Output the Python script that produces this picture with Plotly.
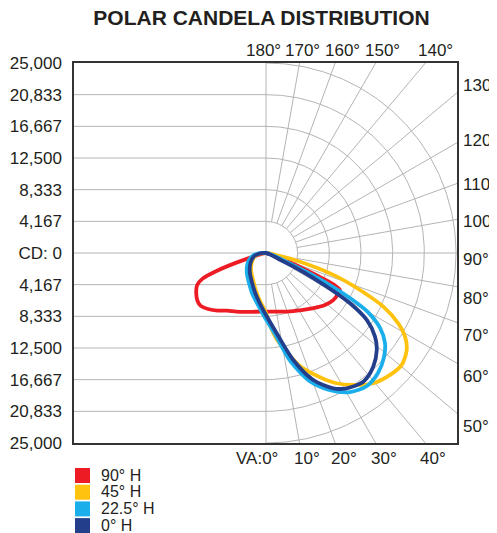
import numpy as np
import plotly.graph_objects as go

# ---------------- data ----------------
TITLE = "POLAR CANDELA DISTRIBUTION"
CD_MAX = 25000
CD_TICK_VALUES = [25000, 20833.33, 16666.67, 12500, 8333.33, 4166.67, 0,
                  -4166.67, -8333.33, -12500, -16666.67, -20833.33, -25000]
CD_TICK_LABELS = ["25,000", "20,833", "16,667", "12,500", "8,333", "4,167", "CD: 0",
                  "4,167", "8,333", "12,500", "16,667", "20,833", "25,000"]
GRID_ANGLES = list(range(10, 180, 10))
TOP_ANGLE_LABELS = ["180°", "170°", "160°", "150°", "140°"]
RIGHT_ANGLE_LABELS = ["130°", "120°", "110°", "100°", "90°", "80°", "70°", "60°", "50°"]
BOTTOM_ANGLE_LABELS = ["VA:0°", "10°", "20°", "30°", "40°"]

SERIES_NAMES = ["90° H", "45° H", "22.5° H", "0° H"]
SERIES_COLORS = ["#ED1C24", "#FFC20E", "#1AAEEB", "#233E8B"]

# vertical angle (deg, 0 = down, 90 = horizontal right, negative = opposite half-plane), candela
H90_THETA = [-76, -74, -72, -70, -68, -65, -60, -55, -51, -46, -40, -34, -27, -20, -10, 0,
             10, 20, 32, 40, 48.6, 55, 60, 63.4, 65, 66, 66]
H90_CD = [0, 1500, 4000, 7000, 9000, 10000, 10600, 11000, 11050, 10600, 9900, 9150, 8650,
          8250, 7850, 7720, 7820, 8200, 8850, 9500, 10350, 10800, 10900, 10890, 9900, 7800, 0]

H45_THETA = [-90, -80, -67, -53, -39, -26, -16, -8, 0, 3.5, 7, 11.1, 16.7, 23.5, 28, 33.5,
             39.5, 45.5, 50.5, 55.4, 59, 62, 65.4, 68.5, 72, 75.6, 78, 80]
H45_CD = [0, 1200, 1800, 2400, 3100, 3900, 5000, 6200, 7900, 9700, 11400, 13000, 15530,
          17840, 19370, 20820, 22210, 22890, 23150, 22490, 21350, 19710, 16970, 13290,
          9320, 4620, 1500, 0]

H22_THETA = [-90, -80.5, -67.6, -55.6, -42.1, -29.5, -19.3, -10.2, -1.8, 6.3, 12.9, 19.2,
             25, 31.1, 37.2, 43, 48.6, 52.9, 56.7, 59.9, 61.8, 63.8, 65.8, 67.5]
H22_CD = [0, 1600, 2420, 3030, 3730, 4540, 5570, 6690, 8290, 10720, 14710, 17980, 19900,
          21370, 21970, 21600, 20700, 19630, 17950, 15500, 12540, 8650, 4000, 0]

H0_THETA = [-90, -79, -67, -53, -39, -26, -16, -8, 0, 7.6, 14.3, 20.4, 26.4, 30.8, 37.1,
            43.3, 48.8, 52.5, 56.4, 59.1, 61, 63, 64.5, 66]
H0_CD = [0, 1340, 2000, 2630, 3370, 4240, 5330, 6510, 8160, 10660, 14530, 17830, 19880,
         20730, 21230, 20570, 19370, 18080, 15920, 12880, 9135, 5500, 2200, 0]

SERIES_THETA = [H90_THETA, H45_THETA, H22_THETA, H0_THETA]
SERIES_CD = [H90_CD, H45_CD, H22_CD, H0_CD]

# ---------------- layout geometry ----------------
# the page body has an 8px default margin, so the figure is 8px smaller than the window
PAGE_OFF = 8
W, H = 497 - PAGE_OFF, 533 - PAGE_OFF
PLOT_LEFT, PLOT_RIGHT, PLOT_TOP, PLOT_BOTTOM = 74, 457, 63, 443   # window pixels
ML = PLOT_LEFT - PAGE_OFF
MT = PLOT_TOP - PAGE_OFF
PW = PLOT_RIGHT - PLOT_LEFT
PH = PLOT_BOTTOM - PLOT_TOP
MR = W - ML - PW
MB = H - MT - PH
CX = 266                      # window pixel x of the polar centre
RADIUS_PX = PH / 2
px_per_cd = RADIUS_PX / CD_MAX
x_min = -(CX - PLOT_LEFT) / px_per_cd
x_max = (PLOT_RIGHT - CX) / px_per_cd


def paper_x(px):
    return (px - PLOT_LEFT) / PW


def paper_y(py):
    return (PLOT_BOTTOM - py) / PH


FONT = "Liberation Sans, Arial, sans-serif"
TEXT_COLOR = "#231F20"
GRID_COLOR = "#b4b4b4"

fig = go.Figure()

# ---------------- grid (cartesian) ----------------
gx, gy = [], []
for v in CD_TICK_VALUES:
    if abs(v) < CD_MAX - 1:
        gx += [x_min, 0, None]
        gy += [v, v, None]
gx += [0, 0, None]
gy += [-CD_MAX, CD_MAX, None]
rings = [v for v in CD_TICK_VALUES if v > 0]
t = np.linspace(0, np.pi, 241)
for R in rings:
    gx += list(R * np.sin(t)) + [None]
    gy += list(R * np.cos(t)) + [None]
r_in = min(rings)
for a in GRID_ANGLES:
    va = np.radians(a)
    dx, dy = np.sin(va), -np.cos(va)
    lens = [x_max / dx]
    if abs(dy) > 1e-9:
        lens.append(CD_MAX / abs(dy))
    L = min(lens)
    gx += [r_in * dx, L * dx, None]
    gy += [r_in * dy, L * dy, None]
fig.add_trace(go.Scatter(x=gx, y=gy, mode="lines", line=dict(color=GRID_COLOR, width=1),
                         hoverinfo="skip", showlegend=False))

# ---------------- candela curves (polar) ----------------
for name, color, th, cd in zip(SERIES_NAMES, SERIES_COLORS, SERIES_THETA, SERIES_CD):
    fig.add_trace(go.Scatterpolar(theta=th, r=cd, mode="lines", name=name,
                                  line=dict(color=color, width=3.8, shape="spline",
                                            smoothing=0.8),
                                  showlegend=False, subplot="polar"))

# ---------------- annotations ----------------
ann = []
TOP_X = [263, 302, 342, 382, 435]
for txt, px in zip(TOP_ANGLE_LABELS, TOP_X):
    ann.append(dict(x=paper_x(px), y=paper_y(50), text=txt))
RIGHT_Y = [86, 140.5, 184.5, 221.5, 259, 298, 335, 376, 426.5]
for txt, py in zip(RIGHT_ANGLE_LABELS, RIGHT_Y):
    ann.append(dict(x=paper_x(461), y=paper_y(py), text=txt, xanchor="left"))
BOTTOM_X = [257, 307, 344, 384, 433]
for txt, px in zip(BOTTOM_ANGLE_LABELS, BOTTOM_X):
    ann.append(dict(x=paper_x(px), y=paper_y(459), text=txt))
for a in ann:
    a["font"] = dict(family=FONT, size=17, color=TEXT_COLOR)

shapes = []
for i, (name, color) in enumerate(zip(SERIES_NAMES, SERIES_COLORS)):
    yc = 475.5 + i * 16.7
    shapes.append(dict(type="rect", xref="paper", yref="paper",
                       x0=paper_x(75), x1=paper_x(90), y0=paper_y(yc + 7.5), y1=paper_y(yc - 7.5),
                       fillcolor=color, line=dict(width=0)))
    ann.append(dict(x=paper_x(99), y=paper_y(yc - 0.5), text=name, xanchor="left",
                    font=dict(family=FONT, size=16, color=TEXT_COLOR)))

for a in ann:
    a.setdefault("xanchor", "center")
    a.update(xref="paper", yref="paper", yanchor="middle", showarrow=False)

fig.update_layout(
    width=W, height=H,
    margin=dict(l=ML, r=MR, t=MT, b=MB, autoexpand=False),
    paper_bgcolor="white", plot_bgcolor="white",
    title=dict(text="<b>" + TITLE + "</b>", x=(261.5 - PAGE_OFF) / W, xanchor="center",
               y=1 - (18 - PAGE_OFF) / H, yanchor="middle",
               font=dict(family=FONT, size=21, color=TEXT_COLOR)),
    xaxis=dict(range=[x_min, x_max], showgrid=False, zeroline=False, showticklabels=False,
               automargin=False,
               showline=True, mirror=True, linecolor="#333333", linewidth=1.5, ticks=""),
    yaxis=dict(range=[-CD_MAX, CD_MAX], showgrid=False, zeroline=False,
               automargin=False,
               tickvals=CD_TICK_VALUES, ticktext=CD_TICK_LABELS, ticks="",
               ticklabelstandoff=7,
               tickfont=dict(family=FONT, size=17, color=TEXT_COLOR),
               showline=True, mirror=True, linecolor="#333333", linewidth=1.5),
    polar=dict(domain=dict(x=[paper_x(CX - RADIUS_PX), paper_x(CX + RADIUS_PX)], y=[0, 1]),
               bgcolor="rgba(0,0,0,0)",
               radialaxis=dict(range=[0, CD_MAX], visible=False),
               angularaxis=dict(rotation=-90, direction="counterclockwise", visible=False)),
    annotations=ann,
    shapes=shapes,
    showlegend=False,
)

fig.write_html("out.html")
